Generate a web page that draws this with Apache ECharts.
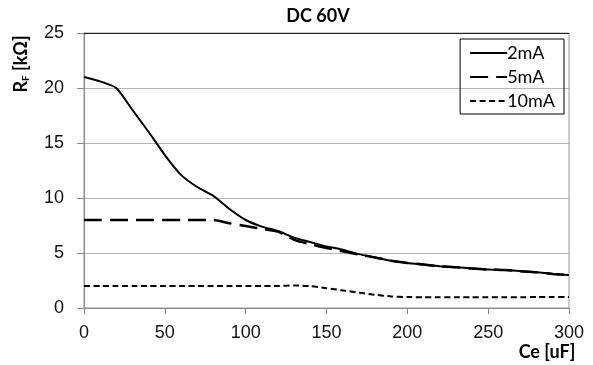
<!DOCTYPE html>
<html>
<head>
<meta charset="utf-8">
<script src="https://cdn.jsdelivr.net/npm/echarts@6/dist/echarts.min.js"></script>
<style>
  html, body { margin: 0; padding: 0; background: #fff; }
</style>
</head>
<body>
<div id="chart" style="width:593px;height:365px;"></div>
<script>
// capacitance Ce [uF]
const ce = [0, 10, 20, 30, 40, 50, 60, 70, 80, 90, 100, 110, 120, 130, 140, 150,
  160, 170, 180, 190, 200, 210, 220, 230, 240, 250, 260, 270, 280, 290, 300]
// R_F [kOhm] per current
const rf2mA = [21.0, 20.6, 20.0, 18.0, 16.0, 13.9, 12.1, 11.0, 10.2, 9.0, 8.0, 7.4, 7.0, 6.4, 6.0, 5.6,
  5.3, 4.9, 4.6, 4.3, 4.1, 3.95, 3.8, 3.7, 3.6, 3.5, 3.45, 3.35, 3.25, 3.1, 3.0]
const rf5mA = [8.0, 8.0, 8.0, 8.0, 8.0, 8.0, 8.0, 8.0, 8.0, 7.7, 7.45, 7.2, 6.95, 6.2, 5.8, 5.45,
  5.15, 4.85, 4.6, 4.3, 4.1, 3.95, 3.8, 3.7, 3.6, 3.5, 3.45, 3.35, 3.25, 3.1, 3.0]
const rf10mA = [2.0, 2.0, 2.0, 2.0, 2.0, 2.0, 2.0, 2.0, 2.0, 2.0, 2.0, 2.0, 2.0, 2.05, 2.0, 1.8,
  1.6, 1.4, 1.2, 1.05, 1.0, 0.98, 0.97, 0.97, 0.97, 0.97, 0.97, 0.98, 1.0, 1.0, 1.0]
const seriesNames = ['2mA', '5mA', '10mA']
const xTicks = [0, 300, 50]   // min, max, interval
const yTicks = [0, 25, 5]

const pairs = (ys) => ce.map((x, i) => [x, ys[i]])
const tickFont = 'Liberation Sans Narrow, Liberation Sans, Arial'
const dashLong = [18, 8]
const dashShort = [6, 3.5]

const chart = echarts.init(document.getElementById('chart'))
chart.setOption({
  animation: false,
  title: {
    text: 'DC 60V',
    left: 313,
    textAlign: 'center',
    top: 2,
    textStyle: { fontFamily: 'Lato', fontWeight: 'bold', fontSize: 18, color: '#000' },
  },
  legend: {
    data: [
      { name: seriesNames[0], lineStyle: { type: 'solid' } },
      { name: seriesNames[1], lineStyle: { type: dashLong } },
      { name: seriesNames[2], lineStyle: { type: dashShort } },
    ],
    orient: 'vertical',
    right: 29,
    top: 39,
    itemWidth: 37,
    itemHeight: 16,
    itemGap: 6,
    padding: [5, 9, 4, 9],
    borderColor: '#000',
    borderWidth: 1,
    itemStyle: { color: 'transparent', borderWidth: 0 },
    textStyle: { fontFamily: 'Lato', fontSize: 18, color: '#000', padding: [0, 0, 0, -5] },
  },
  grid: {
    left: 84,
    right: 24,
    top: 33,
    bottom: 57,
    show: true,
    borderColor: '#999',
    borderWidth: 1,
  },
  graphic: [
    {
      type: 'text',
      x: 21,
      y: 64,
      rotation: Math.PI / 2,
      style: {
        text: '{r|R}{s|F}{r| [kΩ]}',
        align: 'center',
        verticalAlign: 'middle',
        rich: {
          r: { fontFamily: 'Lato', fontWeight: 'bold', fontSize: 18, fill: '#000' },
          s: { fontFamily: 'Lato', fontWeight: 'bold', fontSize: 10, fill: '#000', padding: [9, 0, 0, 0] },
        },
      },
    },
    {
      type: 'text',
      x: 547,
      y: 352,
      style: {
        text: 'Ce [uF]',
        align: 'center',
        verticalAlign: 'middle',
        fontFamily: 'Lato',
        fontWeight: 'bold',
        fontSize: 18,
        fill: '#000',
      },
    },
  ],
  xAxis: [
    {
      type: 'value',
      min: xTicks[0],
      max: xTicks[1],
      interval: xTicks[2],
      axisLine: { lineStyle: { color: '#888' } },
      axisTick: { show: true, length: 6, lineStyle: { color: '#888' } },
      axisLabel: { fontFamily: tickFont, fontSize: 18, color: '#111', margin: 16 },
      splitLine: { show: false },
    },
    {
      type: 'value',
      position: 'top',
      min: xTicks[0],
      max: xTicks[1],
      axisLine: { show: true, lineStyle: { color: '#222' } },
      axisTick: { show: false },
      axisLabel: { show: false },
      splitLine: { show: false },
    },
  ],
  yAxis: {
    type: 'value',
    min: yTicks[0],
    max: yTicks[1],
    interval: yTicks[2],
    axisLine: { show: true, lineStyle: { color: '#888' } },
    axisTick: { show: true, length: 7, lineStyle: { color: '#888' } },
    axisLabel: { fontFamily: tickFont, fontSize: 18, color: '#111', margin: 20 },
    splitLine: { show: true, lineStyle: { color: '#b4b4b4' } },
  },
  series: [
    {
      name: seriesNames[0],
      type: 'line',
      data: pairs(rf2mA),
      symbol: 'none',
      smooth: 0.2,
      z: 3,
      lineStyle: { color: '#000', width: 2, type: 'solid' },
      itemStyle: { color: '#000' },
    },
    {
      name: seriesNames[1],
      type: 'line',
      data: pairs(rf5mA),
      symbol: 'none',
      smooth: 0.2,
      lineStyle: { color: '#000', width: 2.5, type: dashLong },
      itemStyle: { color: '#000' },
    },
    {
      name: seriesNames[2],
      type: 'line',
      data: pairs(rf10mA),
      symbol: 'none',
      smooth: 0.2,
      lineStyle: { color: '#000', width: 2, type: dashShort },
      itemStyle: { color: '#000' },
    },
  ],
})
</script>
</body>
</html>
